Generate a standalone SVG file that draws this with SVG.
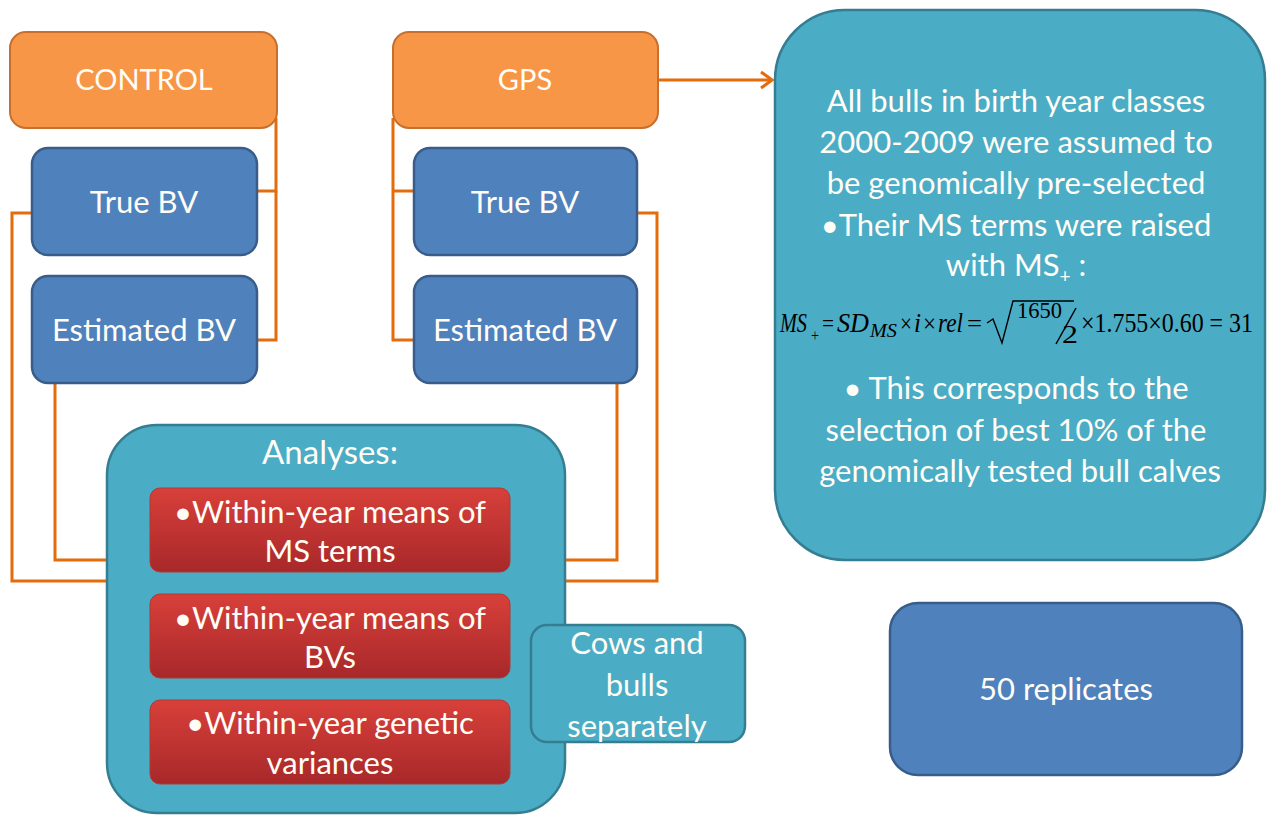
<svg xmlns="http://www.w3.org/2000/svg" width="1272" height="815" viewBox="0 0 1272 815">
<defs>
<linearGradient id="red" x1="0" y1="0" x2="0" y2="1">
<stop offset="0" stop-color="#D8403A"/>
<stop offset="1" stop-color="#A8282A"/>
</linearGradient>
<marker id="arr" markerWidth="14" markerHeight="20" refX="12" refY="10" orient="auto" markerUnits="userSpaceOnUse">
<path d="M1,2 L12,10 L1,18" fill="none" stroke="#E46C0A" stroke-width="3"/>
</marker>
</defs>
<style>
.org{fill:#F79646;stroke:#C86F2E;stroke-width:2}
.blu{fill:#4F81BD;stroke:#385D8A;stroke-width:2.5}
.tea{fill:#4BACC6;stroke:#357D91;stroke-width:2.5}
.red{fill:url(#red);stroke:#B03A32;stroke-width:1}
.t{font-family:Lato,"Open Sans","Liberation Sans",sans-serif;fill:#FFFDF5;text-anchor:middle;font-size:31px}
.c{fill:none;stroke:#E46C0A;stroke-width:3}
.m{font-family:"Liberation Serif",serif;fill:#000;font-size:26px}
.s{font-size:16px}
.i{font-style:italic}
</style>
<rect width="1272" height="815" fill="#FFFFFF"/>
<g id="connectors">
<polyline class="c" points="257,191 276,191 276,118"/>
<polyline class="c" points="257,340 276,340 276,191"/>
<polyline class="c" points="32,213 12,213 12,581 107,581"/>
<polyline class="c" points="55,383 55,560 107,560"/>
<polyline class="c" points="393,118 393,340 414,340"/>
<polyline class="c" points="393,191 414,191"/>
<polyline class="c" points="637,213 657,213 657,581 565,581"/>
<polyline class="c" points="617,383 617,560 565,560"/>
<line class="c" x1="658" y1="80" x2="772" y2="80" marker-end="url(#arr)"/>
</g>
<g id="control">
<rect class="org" x="10" y="32" width="267" height="96" rx="16"/>
<text class="t" x="144" y="90" style="font-size:29px">CONTROL</text>
</g>
<g id="gps">
<rect class="org" x="393" y="32" width="265" height="96" rx="16"/>
<text class="t" x="525" y="90" style="font-size:29px">GPS</text>
</g>
<g id="true-bv-control">
<rect class="blu" x="32" y="148" width="225" height="107" rx="16"/>
<text class="t" x="144" y="213">True BV</text>
</g>
<g id="est-bv-control">
<rect class="blu" x="32" y="276" width="225" height="107" rx="16"/>
<text class="t" x="144" y="341">Estimated BV</text>
</g>
<g id="true-bv-gps">
<rect class="blu" x="414" y="148" width="223" height="107" rx="16"/>
<text class="t" x="525" y="213">True BV</text>
</g>
<g id="est-bv-gps">
<rect class="blu" x="414" y="276" width="223" height="107" rx="16"/>
<text class="t" x="525" y="341">Estimated BV</text>
</g>
<g id="gps-info">
<rect class="tea" x="775" y="10" width="490" height="550" rx="70"/>
<text class="t">
<tspan x="1020" y="112">All bulls in birth year classes</tspan>
<tspan x="1020" y="153">2000-2009 were assumed to</tspan>
<tspan x="1020" y="194">be genomically pre-selected</tspan>
<tspan x="1020" y="236">•Their MS terms were raised</tspan>
<tspan x="1020" y="276">with MS<tspan style="font-size:19px" dy="7">+</tspan><tspan dy="-7"> :</tspan></tspan>
<tspan x="1020" y="399">• This corresponds to the</tspan>
<tspan x="1020" y="441">selection of  best 10% of  the</tspan>
<tspan x="1020" y="482">genomically tested bull calves</tspan>
</text>
<text class="m i" x="780" y="332" textLength="27" lengthAdjust="spacingAndGlyphs" style="font-size:27px">MS</text>
<text class="m s" x="811" y="341" textLength="8" lengthAdjust="spacingAndGlyphs">+</text>
<text class="m" x="822" y="332" textLength="12" lengthAdjust="spacingAndGlyphs">=</text>
<text class="m i" x="837" y="332" textLength="32" lengthAdjust="spacingAndGlyphs" style="font-size:27px">SD</text>
<text class="m i" x="870" y="337" textLength="27" lengthAdjust="spacingAndGlyphs" style="font-size:19px">MS</text>
<text class="m" x="900" y="332" textLength="12" lengthAdjust="spacingAndGlyphs">×</text>
<text class="m i" x="914" y="332" textLength="7" lengthAdjust="spacingAndGlyphs" style="font-size:27px">i</text>
<text class="m" x="923" y="332" textLength="13" lengthAdjust="spacingAndGlyphs">×</text>
<text class="m i" x="938" y="332" textLength="25" lengthAdjust="spacingAndGlyphs" style="font-size:27px">rel</text>
<text class="m" x="967" y="332" textLength="15" lengthAdjust="spacingAndGlyphs">=</text>
<path d="M987,323 L993,319 L1002,343 L1013,301 L1074,301" fill="none" stroke="#000" stroke-width="1.4"/>
<text class="m" x="1017" y="318" style="font-size:24px" textLength="45" lengthAdjust="spacingAndGlyphs">1650</text>
<line x1="1056" y1="344" x2="1076" y2="308" stroke="#000" stroke-width="1.5"/>
<text class="m" x="1062" y="343" style="font-size:25px" textLength="16" lengthAdjust="spacingAndGlyphs">2</text>
<text class="m" x="1081" y="332" textLength="172" lengthAdjust="spacingAndGlyphs" style="font-size:27px">×1.755×0.60 = 31</text>
</g>
<g id="analyses">
<rect class="tea" x="107" y="425" width="458" height="388" rx="50"/>
<text class="t" x="330" y="464" style="font-size:33px">Analyses:</text>
</g>
<g id="means-ms">
<rect class="red" x="150" y="488" width="360" height="84" rx="10"/>
<text class="t"><tspan x="330" y="523">•Within-year means of</tspan><tspan x="330" y="562">MS terms</tspan></text>
</g>
<g id="means-bv">
<rect class="red" x="150" y="594" width="360" height="84" rx="10"/>
<text class="t"><tspan x="330" y="629">•Within-year means of</tspan><tspan x="330" y="668">BVs</tspan></text>
</g>
<g id="gen-var">
<rect class="red" x="150" y="700" width="360" height="84" rx="10"/>
<text class="t"><tspan x="330" y="734">•Within-year genetic</tspan><tspan x="330" y="774">variances</tspan></text>
</g>
<g id="cows-bulls">
<rect class="tea" x="531" y="625" width="214" height="117" rx="16"/>
<text class="t"><tspan x="637" y="654">Cows and</tspan><tspan x="637" y="696">bulls</tspan><tspan x="637" y="737">separately</tspan></text>
</g>
<g id="replicates">
<rect class="blu" x="890" y="603" width="352" height="172" rx="28"/>
<text class="t" x="1066" y="700">50 replicates</text>
</g>
</svg>
